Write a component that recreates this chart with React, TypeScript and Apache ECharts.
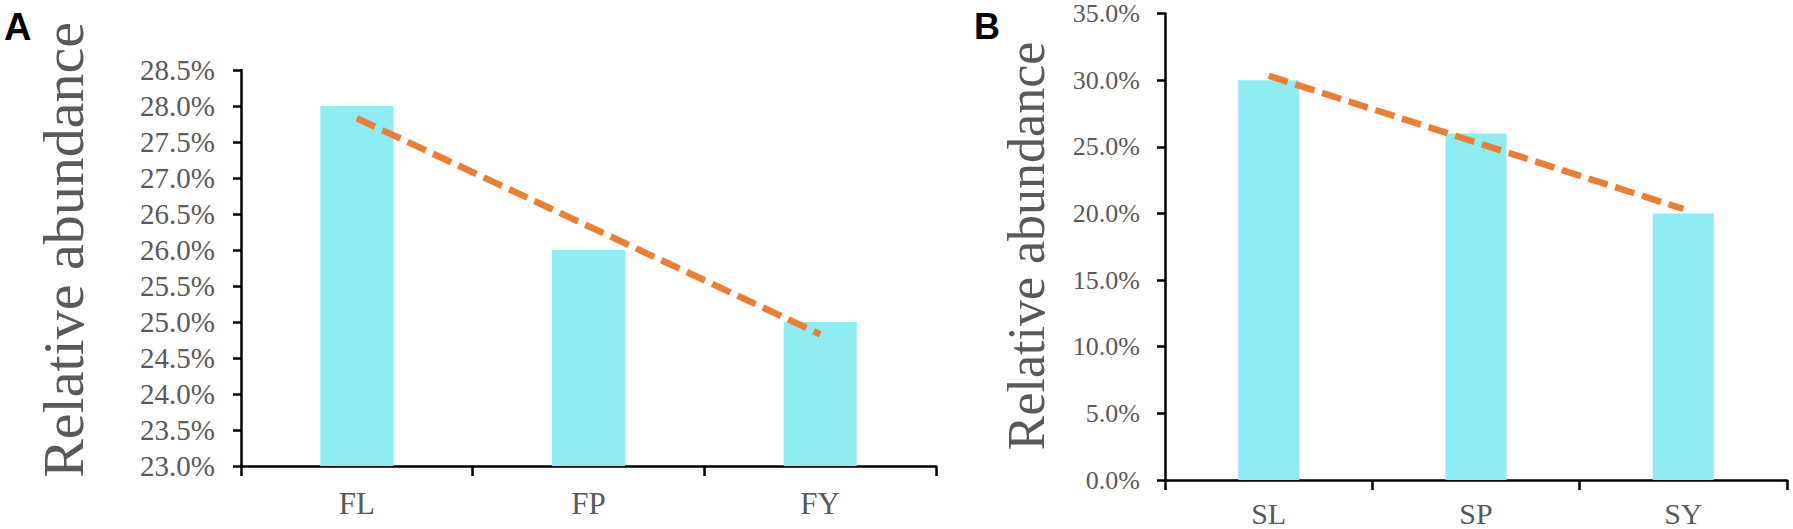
import React, { useEffect, useRef } from "react";
import * as echarts from "echarts";

const categoriesA = ["FL", "FP", "FY"];
const valuesA = [28.0, 26.0, 25.0];
const trendA = [27.83, 26.33, 24.83];
const yMinA = 23;
const yMaxA = 28.5;
const yStepA = 0.5;

const categoriesB = ["SL", "SP", "SY"];
const valuesB = [30.0, 26.0, 20.0];
const trendB = [30.33, 25.33, 20.33];
const yMinB = 0;
const yMaxB = 35;
const yStepB = 5;

const yTitle = "Relative abundance";
const panelLabels = ["A", "B"];

const SERIF = '"Liberation Serif", "Times New Roman", serif';
const SANS = '"Liberation Sans", Arial, sans-serif';
const BAR = "#8EEDF2";
const ORANGE = "#ED7D31";
const GRAY = "#595959";

export default function App() {
  const ref = useRef<HTMLDivElement>(null);
  useEffect(() => {
    document.body.style.margin = "0";
    const chart = echarts.init(ref.current!, null, { renderer: "svg" });
    const axisLine = { show: true, lineStyle: { color: "#000", width: 2.5 } };
    const mkX = (gi: number, cats: string[], size: number, margin: number) => ({
      type: "category",
      gridIndex: gi,
      data: cats,
      boundaryGap: true,
      axisLine,
      axisTick: { show: true, alignWithLabel: false, length: 10, lineStyle: { color: "#000", width: 2.5 } },
      axisLabel: { color: GRAY, fontFamily: SERIF, fontSize: size, margin },
      splitLine: { show: false },
    });
    const mkY = (gi: number, min: number, max: number, step: number, size: number, margin: number) => ({
      type: "value",
      gridIndex: gi,
      min,
      max,
      interval: step,
      axisLine,
      axisTick: { show: true, length: 8, lineStyle: { color: "#000", width: 2.5 } },
      axisLabel: {
        color: GRAY,
        fontFamily: SERIF,
        fontSize: size,
        margin,
        formatter: (v: number) => v.toFixed(1) + "%",
      },
      splitLine: { show: false },
    });
    chart.setOption({
      animation: false,
      backgroundColor: "#fff",
      grid: [
        { left: 241, top: 70, width: 695, height: 396 },
        { left: 1165, top: 13.5, width: 622, height: 466.5 },
      ],
      xAxis: [mkX(0, categoriesA, 31, 22), mkX(1, categoriesB, 30, 18)],
      yAxis: [mkY(0, yMinA, yMaxA, yStepA, 29, 26), mkY(1, yMinB, yMaxB, yStepB, 26, 25)],
      series: [
        { type: "bar", xAxisIndex: 0, yAxisIndex: 0, data: valuesA, barWidth: 73, itemStyle: { color: BAR } },
        {
          type: "line", xAxisIndex: 0, yAxisIndex: 0, data: trendA, symbol: "none",
          lineStyle: { color: ORANGE, width: 6.5, type: [20, 8], cap: "butt" },
        },
        { type: "bar", xAxisIndex: 1, yAxisIndex: 1, data: valuesB, barWidth: 61, itemStyle: { color: BAR } },
        {
          type: "line", xAxisIndex: 1, yAxisIndex: 1, data: trendB, symbol: "none",
          lineStyle: { color: ORANGE, width: 6.5, type: [20, 8], cap: "butt" },
        },
      ],
      graphic: [
        {
          type: "text", x: 63, y: 250, rotation: Math.PI / 2,
          style: { text: yTitle, font: `58px ${SERIF}`, fill: GRAY, align: "center", verticalAlign: "middle" },
        },
        {
          type: "text", x: 1026, y: 246, rotation: Math.PI / 2,
          style: { text: yTitle, font: `52px ${SERIF}`, fill: GRAY, align: "center", verticalAlign: "middle" },
        },
        {
          type: "text", x: 4, y: 8,
          style: { text: panelLabels[0], font: `bold 38px ${SANS}`, fill: "#000", align: "left", verticalAlign: "top" },
        },
        {
          type: "text", x: 974, y: 8,
          style: { text: panelLabels[1], font: `bold 36px ${SANS}`, fill: "#000", align: "left", verticalAlign: "top" },
        },
      ],
    });
    return () => chart.dispose();
  }, []);
  return <div ref={ref} style={{ width: 1793, height: 529 }} />;
}
